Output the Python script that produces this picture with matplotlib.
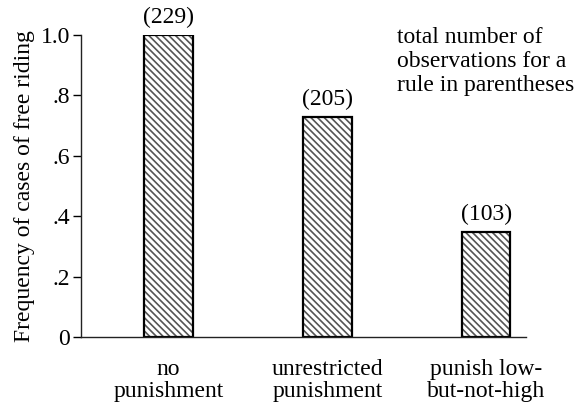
import numpy as np
import matplotlib
matplotlib.use('Agg')
import matplotlib.pyplot as plt

plt.rcParams['font.family'] = ['Liberation Serif', 'DejaVu Serif']
plt.rcParams['hatch.linewidth'] = 1.2

# data
rules = ["no\npunishment", "unrestricted\npunishment", "punish low-\nbut-not-high"]
freq = [1.0, 0.728, 0.347]
n_obs = [229, 205, 103]
yticks = [0, 0.2, 0.4, 0.6, 0.8, 1.0]
ytick_labels = ["0", ".2", ".4", ".6", ".8", "1.0"]

fig = plt.figure(figsize=(5.77, 4.08), dpi=100)
ax = fig.add_axes([0.1404, 0.174, 0.7712, 0.740])

x = np.arange(len(rules))
# hatch fill (grey lines), then black outline on top
ax.bar(x, freq, width=0.305, color='white', edgecolor='#555555', hatch='\\\\\\\\\\', linewidth=0)
ax.bar(x, freq, width=0.305, fill=False, edgecolor='black', linewidth=1.6)

for xi, v, n in zip(x, freq, n_obs):
    ax.annotate(f"({n})", (xi, v), xytext=(0, 5), textcoords='offset points',
                ha='center', va='bottom', fontsize=17)

ax.set_xlim(-0.55, 2.25)
ax.set_ylim(0, 1.0)
ax.set_yticks(yticks)
ax.set_yticklabels(ytick_labels, fontsize=17)
ax.set_xticks(x)
ax.set_xticklabels(rules, fontsize=17, linespacing=1.05)
ax.tick_params(axis='x', length=0, pad=16)
ax.tick_params(axis='y', length=6, width=1, direction='out', pad=2)
ax.set_ylabel("Frequency of cases of free riding", fontsize=17, labelpad=4)

for s in ['top', 'right']:
    ax.spines[s].set_visible(False)
for s in ['left', 'bottom']:
    ax.spines[s].set_linewidth(1.0)
    ax.spines[s].set_color('#222222')

fig.text(397/577, 1 - 27/408, "total number of\nobservations for a\nrule in parentheses",
         ha='left', va='top', fontsize=17, linespacing=1.2)

fig.savefig("out.png", dpi=100)
